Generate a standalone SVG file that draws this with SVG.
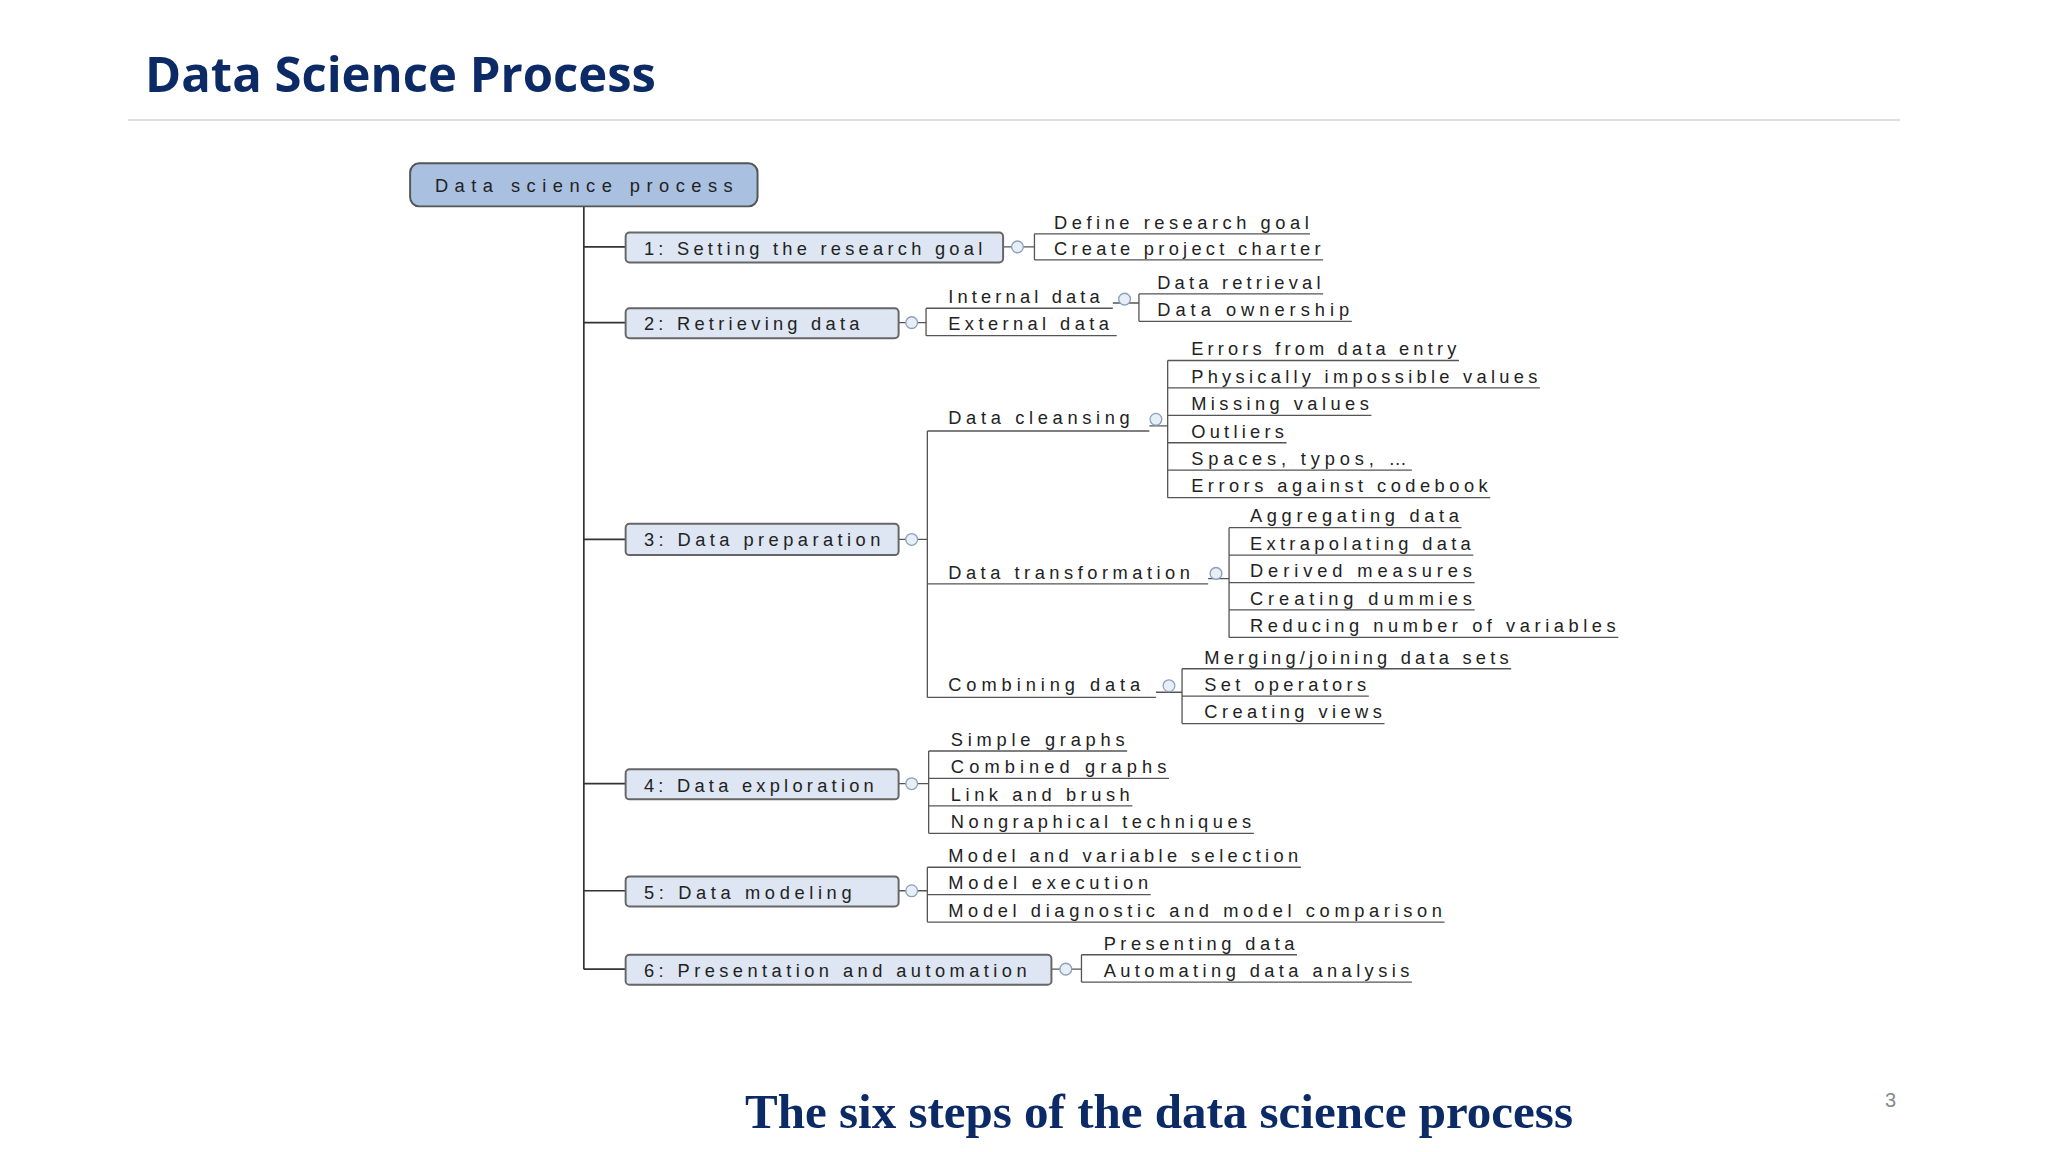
<svg xmlns="http://www.w3.org/2000/svg" width="2048" height="1152" viewBox="0 0 2048 1152">
<style>
.t{font-family:"Liberation Sans",Arial,sans-serif;font-size:14px;fill:#222}
.bx{fill:#dde6f2;stroke:#666;stroke-width:1.5}
.ln{stroke:#333;stroke-width:1.3;fill:none}
.ul{stroke:#555;stroke-width:1;fill:none}
.ci{fill:#e8eef6;stroke:#8aa0bf;stroke-width:1}
</style>
<rect width="2048" height="1152" fill="#fff"/>
<text x="145" y="92" font-family="Open Sans,Liberation Sans,sans-serif" font-weight="bold" font-size="49" fill="#0b2a66">Data Science Process</text>
<line x1="128" y1="120" x2="1900" y2="120" stroke="#ddd" stroke-width="2"/>
<text x="1159" y="1128" text-anchor="middle" font-family="Liberation Serif,serif" font-weight="bold" font-size="49" fill="#0b2a66">The six steps of the data science process</text>
<text x="1885" y="1107" font-family="Liberation Sans,sans-serif" font-size="20" fill="#888">3</text>
<g transform="scale(1.30612)">
<g id="connectors">
<line class="ln" x1="447" y1="158" x2="447" y2="742"/>
<line class="ln" x1="447" y1="189" x2="479" y2="189"/>
<line class="ln" x1="447" y1="247" x2="479" y2="247"/>
<line class="ln" x1="447" y1="413" x2="479" y2="413"/>
<line class="ln" x1="447" y1="600" x2="479" y2="600"/>
<line class="ln" x1="447" y1="682" x2="479" y2="682"/>
<line class="ln" x1="447" y1="742" x2="479" y2="742"/>
<path class="ul" d="M768 189H792M792 179V199M792 179H1003M792 199H1013"/>
<path class="ul" d="M688 247H709M709 236V257M709 236H852M709 257H855"/>
<path class="ul" d="M852 232H872M872 225V246M872 225H1013M872 246H1035"/>
<path class="ul" d="M688 413H710M710 330V534M710 330H880M710 447H925M710 534H885"/>
<path class="ul" d="M880 326H894M894 276V381M894 276H1117M894 297H1179M894 318H1050M894 339H985M894 360H1081M894 381H1141"/>
<path class="ul" d="M925 443H941M941 404V488M941 404H1119M941 425H1128M941 446H1129M941 467H1129M941 488H1239"/>
<path class="ul" d="M885 530H905M905 512V554M905 512H1157M905 533H1048M905 554H1060"/>
<path class="ul" d="M688 600H711M711 575V638M711 575H863M711 596H895M711 617H867M711 638H960"/>
<path class="ul" d="M688 682H710M710 664V706M710 664H996M710 685H881M710 706H1106"/>
<path class="ul" d="M805 742H828M828 731V752M828 731H993M828 752H1081"/>
</g>
<g id="root"><rect x="314" y="125" width="266" height="33" rx="7" fill="#a9c0e0" stroke="#555" stroke-width="1.5"/><text class="t" x="333" y="147" font-size="16" textLength="228" fill="#1a2a4a">Data science process</text></g>
<g id="s1"><rect class="bx" x="479" y="178" width="289" height="23" rx="3"/><text class="t" x="493" y="195" textLength="259">1: Setting the research goal</text><circle class="ci" cx="779" cy="189" r="4.5"/></g>
<g id="s2"><rect class="bx" x="479" y="236" width="209" height="23" rx="3"/><text class="t" x="493" y="253" textLength="165">2: Retrieving data</text><circle class="ci" cx="698" cy="247" r="4.5"/></g>
<g id="s3"><rect class="bx" x="479" y="401" width="209" height="24" rx="3"/><text class="t" x="493" y="418" textLength="181">3: Data preparation</text><circle class="ci" cx="698" cy="413" r="4.5"/></g>
<g id="s4"><rect class="bx" x="479" y="589" width="209" height="23" rx="3"/><text class="t" x="493" y="606" textLength="176">4: Data exploration</text><circle class="ci" cx="698" cy="600" r="4.5"/></g>
<g id="s5"><rect class="bx" x="479" y="671" width="209" height="23" rx="3"/><text class="t" x="493" y="688" textLength="159">5: Data modeling</text><circle class="ci" cx="698" cy="682" r="4.5"/></g>
<g id="s6"><rect class="bx" x="479" y="731" width="326" height="23" rx="3"/><text class="t" x="493" y="748" textLength="293">6: Presentation and automation</text><circle class="ci" cx="816" cy="742" r="4.5"/></g>
<g id="leaves">
<text class="t" x="807" y="175" textLength="195">Define research goal</text>
<text class="t" x="807" y="195" textLength="204">Create project charter</text>
<text class="t" x="726" y="232" textLength="116">Internal data</text><circle class="ci" cx="861" cy="229" r="4.5"/>
<text class="t" x="726" y="253" textLength="123">External data</text>
<text class="t" x="886" y="221" textLength="125">Data retrieval</text>
<text class="t" x="886" y="242" textLength="147">Data ownership</text>
<text class="t" x="726" y="325" textLength="139">Data cleansing</text><circle class="ci" cx="885" cy="321" r="4.5"/>
<text class="t" x="726" y="443" textLength="185">Data transformation</text><circle class="ci" cx="931" cy="439" r="4.5"/>
<text class="t" x="726" y="529" textLength="147">Combining data</text><circle class="ci" cx="895" cy="525" r="4.5"/>
<text class="t" x="912" y="272" textLength="203">Errors from data entry</text>
<text class="t" x="912" y="293" textLength="265">Physically impossible values</text>
<text class="t" x="912" y="314" textLength="136">Missing values</text>
<text class="t" x="912" y="335" textLength="71">Outliers</text>
<text class="t" x="912" y="356" textLength="165">Spaces, typos, …</text>
<text class="t" x="912" y="377" textLength="227">Errors against codebook</text>
<text class="t" x="957" y="400" textLength="160">Aggregating data</text>
<text class="t" x="957" y="421" textLength="169">Extrapolating data</text>
<text class="t" x="957" y="442" textLength="170">Derived measures</text>
<text class="t" x="957" y="463" textLength="170">Creating dummies</text>
<text class="t" x="957" y="484" textLength="280">Reducing number of variables</text>
<text class="t" x="922" y="508" textLength="233">Merging/joining data sets</text>
<text class="t" x="922" y="529" textLength="124">Set operators</text>
<text class="t" x="922" y="550" textLength="136">Creating views</text>
<text class="t" x="728" y="571" textLength="133">Simple graphs</text>
<text class="t" x="728" y="592" textLength="165">Combined graphs</text>
<text class="t" x="728" y="613" textLength="137">Link and brush</text>
<text class="t" x="728" y="634" textLength="230">Nongraphical techniques</text>
<text class="t" x="726" y="660" textLength="268">Model and variable selection</text>
<text class="t" x="726" y="681" textLength="153">Model execution</text>
<text class="t" x="726" y="702" textLength="378">Model diagnostic and model comparison</text>
<text class="t" x="845" y="727" textLength="146">Presenting data</text>
<text class="t" x="845" y="748" textLength="234">Automating data analysis</text>
</g>
</g>
</svg>
